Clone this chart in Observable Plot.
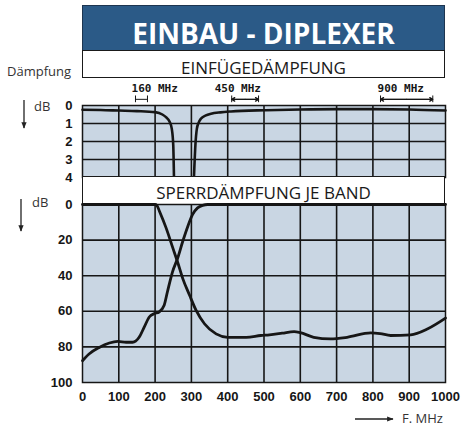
<!DOCTYPE html>
<html>
<head>
<meta charset="utf-8">
<script src="https://cdn.jsdelivr.net/npm/d3@7"></script>
<script src="https://cdn.jsdelivr.net/npm/@observablehq/plot@0.6"></script>
<style>
  html, body { margin: 0; padding: 0; background: #fff; }
  #wrap { position: relative; width: 461px; height: 428px; overflow: hidden; background: #fff; }
  .band { position: absolute; left: 82px; width: 363px; box-sizing: border-box; border: 1.5px solid #1a1a1a;
          background: #fff; display: flex; align-items: center; justify-content: center;
          font-family: "Open Sans", sans-serif; font-size: 17px; color: #1a1a1a; }
  .title { background: #2b5a87; color: #fff; font-weight: bold; font-size: 28px; border-color: #1d3550; }
  .lbl { position: absolute; font-family: "Open Sans", sans-serif; font-size: 13px; color: #333; line-height: 1; }
  .abs { position: absolute; left: 0; }
  svg.deco { position: absolute; left: 0; top: 0; overflow: visible; }
</style>
</head>
<body>
<div id="wrap">
  <div class="band title" style="top:5px;height:47px;padding-top:8px;">EINBAU - DIPLEXER</div>
  <div class="band" style="top:50px;height:28px;padding-top:7px;">EINFÜGEDÄMPFUNG</div>
  <div id="marks" class="abs" style="top:77px;"></div>
  <div id="top" class="abs" style="top:102px;"></div>
  <div class="band" style="top:176px;height:29px;padding-top:3px;">SPERRDÄMPFUNG JE BAND</div>
  <div id="bottom" class="abs" style="top:200px;"></div>
  <div class="lbl" style="left:7px;top:65px;">Dämpfung</div>
  <div class="lbl" style="left:34px;top:100px;">dB</div>
  <div class="lbl" style="left:32px;top:196px;">dB</div>
  <div class="lbl" style="left:402px;top:412px;">F. MHz</div>
  <svg class="deco" width="461" height="428">
    <defs>
      <marker id="ah" viewBox="0 0 10 10" refX="9" refY="5" markerWidth="5" markerHeight="5" orient="auto">
        <path d="M0,1 L10,5 L0,9 z" fill="#222"/>
      </marker>
    </defs>
    <line x1="24" y1="100" x2="24" y2="128" stroke="#222" stroke-width="1.3" marker-end="url(#ah)"/>
    <line x1="21" y1="199" x2="21" y2="231" stroke="#222" stroke-width="1.3" marker-end="url(#ah)"/>
    <line x1="355" y1="419" x2="393" y2="419" stroke="#222" stroke-width="1.3" marker-end="url(#ah)"/>
  </svg>
</div>
<script>
// ---------- data ----------
const xTicks = [0, 100, 200, 300, 400, 500, 600, 700, 800, 900, 1000];
const xGrid = [100, 200, 300, 400, 500, 600, 700, 800, 900];
const topTicks = [0, 1, 2, 3, 4];
const topGrid = [1, 2, 3];
const bottomTicks = [0, 20, 40, 60, 80, 100];
const bottomGrid = [20, 40, 60, 80];

// frequency bands (MHz)
const bandLabels = ["160 MHz", "450 MHz", "900 MHz"];
const bandLabelAt = [135, 364, 813];
const bandLo = [146, 411, 821];
const bandHi = [179, 485, 965];
const bandArrows = [false, true, true];

// Einfügedämpfung (insertion loss, dB) – 160 MHz path
const insLowF  = [0, 50, 100, 150, 200, 220, 230, 240, 246, 250, 252];
const insLowDb = [0.24, 0.25, 0.28, 0.31, 0.37, 0.5, 0.65, 0.9, 1.3, 2.2, 4];
// Einfügedämpfung – 450/900 MHz path
const insHighF  = [307, 311, 315, 320, 326, 340, 354, 380, 409, 505, 600, 700, 800, 900, 1000];
const insHighDb = [4, 2.2, 1.3, 0.95, 0.74, 0.55, 0.46, 0.38, 0.33, 0.26, 0.22, 0.2, 0.2, 0.22, 0.28];

// Sperrdämpfung (rejection, dB) – 160 MHz path
const stopLowF  = [0, 100, 200, 205, 212, 230, 249, 263, 276, 295, 313, 336, 368, 400, 451, 491, 515, 550, 583, 600, 637, 683, 729, 794, 820, 849, 904, 950, 1000];
const stopLowDb = [0, 0, 0, 0.5, 3.8, 13, 24.5, 33, 41.5, 51, 59.5, 67, 72.7, 74.6, 74.6, 73.6, 73.2, 72.3, 71.4, 72, 74.6, 75.5, 74.6, 72.1, 72.5, 73.6, 73.2, 69.9, 63.8];
// Sperrdämpfung – 450/900 MHz path
const stopHighF  = [0, 18, 46, 74, 97, 120, 138, 156, 170, 184, 198, 211, 225, 234, 248, 262, 276, 290, 303, 317, 331, 345, 400, 1000];
const stopHighDb = [87.8, 84, 80.3, 77.8, 76.9, 77.4, 77.4, 74.6, 68.9, 63.2, 61.3, 60.4, 56.6, 49, 37.8, 30.2, 20.8, 12.3, 5.7, 1.9, 0.5, 0, 0, 0];

// ---------- build tables ----------
const zip = (xs, ys) => xs.map((x, i) => ({x, y: ys[i]}));
const bands = bandLabels.map((label, i) => ({label, at: bandLabelAt[i], lo: bandLo[i], hi: bandHi[i], mid: (bandLo[i] + bandHi[i]) / 2, arrows: bandArrows[i]}));
const bandEnds = bands.flatMap(b => [b.lo, b.hi]);
const arrowBands = bands.filter(b => b.arrows);

const fill = "#c9d6e3";
const ink = "#161616";
const common = {width: 461, marginLeft: 82, marginRight: 16};

// ---------- marker band ----------
const marks = Plot.plot({
  ...common, height: 28, marginTop: 0, marginBottom: 0,
  style: {background: "transparent", overflow: "visible"},
  x: {domain: [0, 1000], axis: null},
  y: {domain: [0, 1], axis: null},
  marks: [
    Plot.text(bands, {x: "at", y: 0.6, text: "label", textAnchor: "start", fontWeight: "bold", fontSize: 11, fontFamily: "DejaVu Sans Mono", fill: ink}),
    Plot.ruleY(bands, {x1: "lo", x2: "hi", y: 0.22, stroke: ink, strokeWidth: 1}),
    Plot.ruleX(bandEnds, {x: d => d, y1: 0.1, y2: 0.34, stroke: ink, strokeWidth: 1}),
    Plot.arrow(arrowBands, {x1: "mid", x2: "lo", y1: 0.22, y2: 0.22, stroke: ink, strokeWidth: 1.3, headLength: 4}),
    Plot.arrow(arrowBands, {x1: "mid", x2: "hi", y1: 0.22, y2: 0.22, stroke: ink, strokeWidth: 1.3, headLength: 4})
  ]
});
document.getElementById("marks").append(marks);

// ---------- top chart ----------
const topChart = Plot.plot({
  ...common, height: 78, marginTop: 3, marginBottom: 3,
  style: {background: "transparent", overflow: "visible", fontFamily: "Liberation Sans, Arial, sans-serif", fontSize: "13px", fontWeight: "bold", color: ink},
  x: {domain: [0, 1000], axis: null},
  y: {domain: [0, 4], reverse: true, ticks: topTicks, tickSize: 0, tickPadding: 10, tickFormat: d => String(d), label: null},
  marks: [
    Plot.frame({fill}),
    Plot.ruleX(xGrid, {stroke: ink, strokeWidth: 1.6}),
    Plot.ruleY(topGrid, {stroke: ink, strokeWidth: 1.6}),
    Plot.line(zip(insLowF, insLowDb), {x: "x", y: "y", curve: "monotone-x", stroke: ink, strokeWidth: 2.6}),
    Plot.line(zip(insHighF, insHighDb), {x: "x", y: "y", curve: "monotone-x", stroke: ink, strokeWidth: 2.6}),
    Plot.frame({stroke: ink, strokeWidth: 1.5})
  ]
});
document.getElementById("top").append(topChart);

// ---------- bottom chart ----------
const bottomChart = Plot.plot({
  ...common, height: 228, marginTop: 4, marginBottom: 46,
  style: {background: "transparent", overflow: "visible", fontFamily: "Liberation Sans, Arial, sans-serif", fontSize: "13px", fontWeight: "bold", color: ink},
  x: {domain: [0, 1000], ticks: xTicks, tickSize: 0, tickPadding: 9, tickFormat: d => String(d), label: null},
  y: {domain: [0, 100], reverse: true, ticks: bottomTicks, tickSize: 0, tickPadding: 10, tickFormat: d => String(d), label: null},
  marks: [
    Plot.frame({fill}),
    Plot.ruleX(xGrid, {stroke: ink, strokeWidth: 1.6}),
    Plot.ruleY(bottomGrid, {stroke: ink, strokeWidth: 1.6}),
    Plot.line(zip(stopLowF, stopLowDb), {x: "x", y: "y", curve: "monotone-x", stroke: ink, strokeWidth: 2.8}),
    Plot.line(zip(stopHighF, stopHighDb), {x: "x", y: "y", curve: "monotone-x", stroke: ink, strokeWidth: 2.8}),
    Plot.frame({stroke: ink, strokeWidth: 1.5})
  ]
});
document.getElementById("bottom").append(bottomChart);
</script>
</body>
</html>
